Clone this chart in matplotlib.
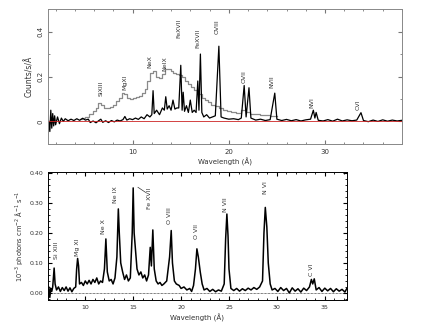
import matplotlib
matplotlib.use("Agg")
import matplotlib.pyplot as plt
from matplotlib.ticker import MultipleLocator, FormatStrFormatter

# ── Top panel: high-resolution spectrum (black) ─────────────────────────────
top_wave = [1.3, 1.4, 1.5, 1.6, 1.7, 1.8, 1.9, 2.0, 2.2, 2.4, 2.6, 2.8, 3.0,
            3.3, 3.6, 3.9, 4.2, 4.5, 4.8, 5.1, 5.4, 5.6, 5.9, 6.2, 6.5, 6.7,
            6.9, 7.2, 7.5, 7.8, 8.1, 8.4, 8.7, 9.0, 9.2, 9.4, 9.7, 10.0, 10.3,
            10.6, 10.9, 11.2, 11.5, 11.8, 12.0, 12.13, 12.25, 12.5, 12.8, 13.1,
            13.3, 13.45, 13.6, 13.8, 14.0, 14.2, 14.4, 14.6, 14.8, 15.01, 15.15,
            15.26, 15.4, 15.6, 15.8, 16.0, 16.2, 16.4, 16.6, 16.78, 16.9, 17.05,
            17.2, 17.4, 17.7, 18.0, 18.3, 18.6, 18.97, 19.2, 19.5, 20.0, 20.5,
            21.0, 21.3, 21.6, 21.8, 22.1, 22.3, 22.8, 23.3, 23.8, 24.3, 24.78,
            25.0, 25.5, 26.0, 26.5, 27.0, 27.5, 28.0, 28.5, 28.79, 28.95, 29.08,
            29.3, 29.8, 30.3, 30.8, 31.3, 31.8, 32.3, 32.8, 33.3, 33.74, 34.0,
            34.5, 35.0, 35.5, 36.0, 36.5, 37.0, 37.5, 38.0]
top_flux = [0.0, -0.045, 0.05, -0.03, 0.035, -0.02, 0.025, -0.015, 0.02, -0.01,
            0.015, 0.0, 0.012, 0.003, 0.01, 0.004, 0.012, 0.005, 0.014, 0.006,
            0.01, -0.005, 0.002, -0.006, 0.004, 0.01, -0.004, 0.003, -0.005,
            0.004, -0.002, 0.006, 0.002, 0.008, 0.022, 0.006, 0.012, 0.008,
            0.015, 0.009, 0.02, 0.012, 0.03, 0.02, 0.03, 0.137, 0.035, 0.05,
            0.03, 0.06, 0.05, 0.11, 0.055, 0.07, 0.05, 0.095, 0.055, 0.06, 0.06,
            0.25, 0.05, 0.13, 0.045, 0.07, 0.04, 0.095, 0.04, 0.05, 0.04, 0.18,
            0.05, 0.30, 0.04, 0.02, 0.03, 0.015, 0.02, 0.025, 0.335, 0.02, 0.015,
            0.01, 0.012, 0.008, 0.015, 0.16, 0.02, 0.15, 0.015, 0.006, 0.01,
            0.004, 0.008, 0.126, 0.01, 0.004, 0.009, 0.003, 0.008, 0.002, 0.007,
            0.01, 0.05, 0.015, 0.04, 0.005, 0.002, 0.008, 0.001, 0.01, 0.002,
            0.007, 0.003, 0.006, 0.039, 0.004, -0.001, 0.006, 0.0, 0.007, 0.001,
            0.006, 0.002, 0.005]

# ── Top panel: low-resolution spectrum (grey steps) ─────────────────────────
low_wave = [4.5, 4.9, 5.3, 5.7, 6.0, 6.3, 6.6, 6.9, 7.2, 7.5, 7.8, 8.1, 8.4,
            8.7, 9.0, 9.3, 9.6, 9.9, 10.2, 10.5, 10.8, 11.1, 11.4, 11.7, 12.0,
            12.3, 12.6, 12.9, 13.2, 13.5, 13.8, 14.1, 14.4, 14.7, 15.0, 15.3,
            15.6, 15.9, 16.2, 16.5, 16.8, 17.1, 17.4, 17.7, 18.0, 18.4, 18.8,
            19.2, 19.6, 20.0, 20.5, 21.0, 21.5, 22.0, 22.5, 23.0, 23.5, 24.0,
            24.5, 25.0]
low_flux = [0.01, 0.015, 0.02, 0.035, 0.045, 0.06, 0.08, 0.075, 0.06, 0.058,
            0.065, 0.075, 0.09, 0.105, 0.125, 0.12, 0.105, 0.1, 0.105, 0.11,
            0.115, 0.125, 0.145, 0.18, 0.215, 0.225, 0.2, 0.195, 0.21, 0.235,
            0.235, 0.225, 0.215, 0.21, 0.205, 0.2, 0.18, 0.165, 0.155, 0.14,
            0.13, 0.12, 0.105, 0.095, 0.085, 0.075, 0.07, 0.06, 0.052, 0.046,
            0.04, 0.037, 0.05, 0.04, 0.035, 0.032, 0.029, 0.027, 0.025, 0.022]

top_labels = ["SiXIII", "MgXI", "NeX", "NeIX", "FeXVII", "FeXVII", "OVIII",
              "OVII", "NVII", "NVI", "CVI"]
top_label_x = [6.7, 9.2, 11.8, 13.4, 14.85, 16.8, 18.8, 21.6, 24.5, 28.6, 33.4]
top_label_y = [0.115, 0.14, 0.24, 0.225, 0.37, 0.325, 0.39, 0.17, 0.15, 0.06, 0.05]

# ── Bottom panel: fluxed spectrum ───────────────────────────────────────────
bot_wave = [6.1, 6.2, 6.3, 6.4, 6.5, 6.6, 6.75, 6.85, 7.0, 7.2, 7.4, 7.6, 7.8,
            8.0, 8.2, 8.4, 8.6, 8.8, 9.0, 9.1, 9.2, 9.3, 9.4, 9.6, 9.8, 10.0,
            10.2, 10.4, 10.6, 10.8, 11.0, 11.2, 11.4, 11.6, 11.8, 12.0, 12.15,
            12.3, 12.5, 12.7, 12.9, 13.1, 13.3, 13.45, 13.55, 13.7, 13.9, 14.1,
            14.3, 14.5, 14.7, 14.9, 15.0, 15.1, 15.25, 15.4, 15.6, 15.8, 16.0,
            16.2, 16.4, 16.6, 16.78, 16.9, 17.05, 17.2, 17.4, 17.6, 17.8, 18.0,
            18.2, 18.5, 18.8, 18.97, 19.1, 19.3, 19.5, 19.8, 20.0, 20.3, 20.6,
            20.9, 21.1, 21.3, 21.5, 21.65, 21.8, 22.0, 22.2, 22.4, 22.7, 23.0,
            23.3, 23.6, 23.9, 24.2, 24.5, 24.65, 24.78, 24.9, 25.0, 25.2, 25.5,
            25.8, 26.1, 26.4, 26.7, 27.0, 27.3, 27.6, 27.9, 28.2, 28.5, 28.65,
            28.79, 28.95, 29.1, 29.3, 29.5, 29.8, 30.1, 30.4, 30.7, 31.0, 31.3,
            31.6, 31.9, 32.2, 32.5, 32.8, 33.1, 33.4, 33.6, 33.74, 33.9, 34.1,
            34.4, 34.7, 35.0, 35.3, 35.6, 35.9, 36.2, 36.5, 36.8, 37.1, 37.3]
bot_flux = [-0.02, 0.02, -0.015, 0.015, 0.005, 0.02, 0.083, 0.03, 0.01, 0.02,
            0.005, 0.018, 0.008, 0.02, 0.006, 0.017, 0.004, 0.015, 0.02, 0.08,
            0.115, 0.09, 0.03, 0.035, 0.025, 0.04, 0.03, 0.042, 0.03, 0.045,
            0.035, 0.05, 0.03, 0.04, 0.035, 0.08, 0.18, 0.07, 0.04, 0.045, 0.03,
            0.05, 0.12, 0.28, 0.2, 0.1, 0.07, 0.045, 0.06, 0.04, 0.05, 0.2, 0.35,
            0.2, 0.14, 0.08, 0.06, 0.07, 0.05, 0.06, 0.04, 0.06, 0.152, 0.09,
            0.21, 0.08, 0.04, 0.03, 0.035, 0.025, 0.03, 0.04, 0.12, 0.208, 0.1,
            0.04, 0.03, 0.025, 0.015, 0.02, 0.01, 0.015, 0.005, 0.025, 0.08,
            0.147, 0.12, 0.07, 0.03, 0.01, 0.015, 0.005, 0.012, 0.004, 0.01,
            0.006, 0.03, 0.18, 0.263, 0.19, 0.08, 0.015, 0.008, 0.015, 0.006,
            0.014, 0.008, 0.016, 0.01, 0.018, 0.012, 0.02, 0.04, 0.2, 0.285,
            0.22, 0.1, 0.03, 0.01, 0.015, 0.005, 0.018, 0.008, 0.015, 0.0, 0.017,
            0.006, 0.014, 0.003, 0.016, 0.008, 0.02, 0.045, 0.03, 0.047, 0.01,
            0.018, 0.005, 0.016, 0.007, 0.015, 0.004, 0.014, 0.006, 0.012, 0.003,
            0.015]

bot_labels = ["Si XIII", "Mg XI", "Ne X", "Ne IX", "Fe XVII", "O VIII", "O VII",
              "N VII", "N VI", "C VI"]
bot_label_x = [7.0, 9.2, 11.9, 13.2, 16.7, 18.8, 21.6, 24.6, 28.8, 33.6]
bot_label_y = [0.113, 0.124, 0.197, 0.30, 0.28, 0.23, 0.18, 0.27, 0.33, 0.058]

TXT = "#333333"
plt.rcParams["font.family"] = "DejaVu Sans"
plt.rcParams["font.size"] = 5

fig = plt.figure(figsize=(4.24, 3.27), dpi=100)

# ── Top axes ────────────────────────────────────────────────────────────────
ax1 = fig.add_axes([0.113, 0.560, 0.835, 0.412])
ax1.plot(low_wave, low_flux, drawstyle="steps-mid", color="#8a8a8a", lw=0.9)
ax1.plot(top_wave, top_flux, color="black", lw=0.9)
ax1.axhline(0, color="#cc2222", lw=0.6)
ax1.set_xlim(1.2, 38.0)
ax1.set_ylim(-0.1, 0.5)
ax1.xaxis.set_major_locator(MultipleLocator(10))
ax1.xaxis.set_minor_locator(MultipleLocator(2))
ax1.yaxis.set_major_locator(MultipleLocator(0.2))
ax1.yaxis.set_minor_locator(MultipleLocator(0.1))
ax1.yaxis.set_major_formatter(FormatStrFormatter("%g"))
ax1.tick_params(which="both", direction="in", top=True, right=True,
                colors="#777777", labelcolor=TXT, labelsize=5)
ax1.tick_params(which="major", length=3)
ax1.tick_params(which="minor", length=1.5)
ax1.tick_params(axis="y", labelrotation=90)
for lab in ax1.get_yticklabels():
    lab.set_va("center")
for s in ax1.spines.values():
    s.set_color("#888888")
    s.set_linewidth(0.7)
ax1.set_xlabel("Wavelength (Å)", color=TXT, fontsize=5, labelpad=2)
ax1.set_ylabel("Counts/s/Å", color=TXT, fontsize=5.5, labelpad=2)
for name, x, y in zip(top_labels, top_label_x, top_label_y):
    ax1.text(x, y, name, rotation=90, ha="center", va="bottom",
             fontsize=4.5, color=TXT)

# ── Bottom axes ─────────────────────────────────────────────────────────────
ax2 = fig.add_axes([0.113, 0.083, 0.705, 0.391])
ax2.plot(bot_wave, bot_flux, color="black", lw=1.1)
ax2.axhline(0, color="black", lw=0.5, ls=(0, (1, 1)))
ax2.set_xlim(6.1, 37.3)
ax2.set_ylim(-0.023, 0.403)
ax2.xaxis.set_major_locator(MultipleLocator(5))
ax2.xaxis.set_minor_locator(MultipleLocator(1))
ax2.yaxis.set_major_locator(MultipleLocator(0.1))
ax2.yaxis.set_minor_locator(MultipleLocator(0.02))
ax2.yaxis.set_major_formatter(FormatStrFormatter("%.2f"))
ax2.tick_params(which="both", direction="in", top=True, right=True,
                colors="black", labelcolor=TXT, labelsize=4.5)
ax2.tick_params(which="major", length=3)
ax2.tick_params(which="minor", length=1.5)
for s in ax2.spines.values():
    s.set_linewidth(0.7)
ax2.set_xlabel("Wavelength (Å)", color=TXT, fontsize=5, labelpad=3)
ax2.set_ylabel("10$^{-3}$ photons cm$^{-2}$ Å$^{-1}$ s$^{-1}$",
               color=TXT, fontsize=4.8, labelpad=3)
for name, x, y in zip(bot_labels, bot_label_x, bot_label_y):
    ax2.text(x, y, name, rotation=90, ha="center", va="bottom",
             fontsize=4.5, color=TXT)
ax2.plot([15.5, 16.3], [0.352, 0.335], color=TXT, lw=0.5)

fig.savefig("out.png", dpi=100)
